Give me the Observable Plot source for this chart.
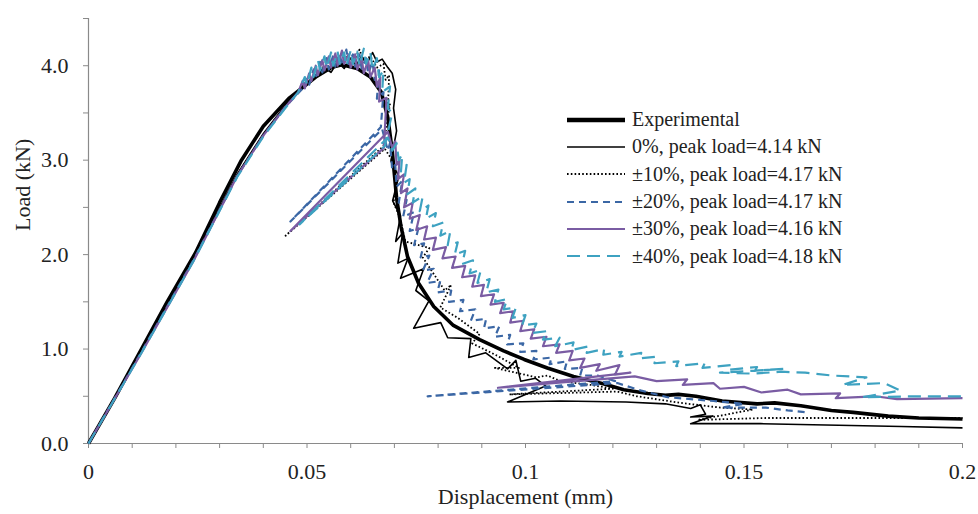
<!DOCTYPE html>
<html>
<head>
<meta charset="utf-8">
<script src="https://cdn.jsdelivr.net/npm/d3@7"></script>
<script src="https://cdn.jsdelivr.net/npm/@observablehq/plot@0.6"></script>
<style>
  body { margin: 0; background: #fff; }
  #wrap { position: relative; width: 978px; height: 514px; }
  #legend { position: absolute; left: 567px; top: 106px; font-family: "Liberation Serif", "Times New Roman", serif; font-size: 20px; color: #222; }
  .row { display: flex; align-items: center; height: 27.3px; white-space: nowrap; }
  .row svg { width: 58px; height: 10px; margin-right: 7px; flex: none; }
</style>
</head>
<body>
<div id="wrap"><div id="legend"></div></div>
<script>
// ---------------- data (displacement mm, load kN) ----------------
const experimental = [[0,0],[0.006,0.48],[0.012,0.99],[0.018,1.5],[0.0245,2.02],[0.030,2.55],[0.035,3.0],[0.040,3.36],[0.046,3.66],[0.052,3.88],[0.0555,3.98],[0.058,4.01],[0.0615,3.97],[0.0645,3.88],[0.067,3.72],[0.0685,3.45],[0.0695,3.1],[0.0705,2.6],[0.0715,2.3],[0.073,1.98],[0.0755,1.7],[0.079,1.45],[0.0835,1.25],[0.0895,1.1],[0.095,0.98],[0.0997,0.89],[0.105,0.8],[0.111,0.71],[0.118,0.63],[0.1225,0.57],[0.128,0.53],[0.132,0.51],[0.135,0.52],[0.139,0.5],[0.145,0.45],[0.153,0.42],[0.157,0.43],[0.163,0.4],[0.17,0.35],[0.175,0.33],[0.183,0.29],[0.19,0.27],[0.2,0.26]];

const pct0 = [[0,0],[0.012,0.97],[0.024,1.95],[0.034,2.85],[0.040,3.28],[0.045,3.58],[0.049,3.78],[0.052,3.9],[0.054,3.98],[0.0555,3.93],[0.057,4.04],[0.0585,3.97],[0.060,4.08],[0.0612,4.0],[0.0625,4.1],[0.0638,4.03],[0.065,4.14],[0.066,4.04],[0.0672,4.07],[0.0685,3.98],[0.0695,3.92],[0.0703,3.75],[0.0698,3.55],[0.0705,3.31],[0.0692,2.99],[0.0710,2.83],[0.0696,2.57],[0.0714,2.41],[0.0703,2.14],[0.0719,2.23],[0.0708,1.91],[0.0731,1.96],[0.0714,1.75],[0.0767,1.85],[0.0749,1.62],[0.0779,1.51],[0.0744,1.22],[0.0806,1.28],[0.0822,1.12],[0.0875,1.11],[0.087,0.91],[0.0909,0.96],[0.0959,0.79],[0.0978,0.88],[0.0989,0.66],[0.1023,0.69],[0.1046,0.61],[0.0959,0.44],[0.108,0.45],[0.123,0.44],[0.132,0.42],[0.1378,0.37],[0.14,0.41],[0.1412,0.31],[0.1378,0.28],[0.1429,0.29],[0.1378,0.21],[0.1538,0.21],[0.1745,0.19],[0.186,0.18],[0.2,0.165]];

const pct10 = [[0,0],[0.012,0.96],[0.024,1.94],[0.034,2.84],[0.040,3.27],[0.045,3.57],[0.049,3.77],[0.052,3.9],[0.054,4.0],[0.055,3.93],[0.057,4.08],[0.058,4.0],[0.0595,4.12],[0.0605,4.03],[0.062,4.17],[0.063,4.05],[0.0645,4.1],[0.066,3.98],[0.0675,4.02],[0.068,3.85],[0.0688,3.9],[0.0685,3.55],[0.069,3.6],[0.0675,3.15],[0.0451,2.2],[0.0678,3.12],[0.0695,3.0],[0.0705,2.75],[0.0698,2.55],[0.0712,2.4],[0.0725,2.14],[0.078,2.07],[0.0765,1.97],[0.0815,1.62],[0.083,1.68],[0.0805,1.44],[0.0845,1.33],[0.0895,1.16],[0.0878,1.06],[0.0935,0.93],[0.0985,0.8],[0.093,0.8],[0.1025,0.7],[0.105,0.72],[0.108,0.66],[0.115,0.62],[0.12,0.58],[0.0963,0.52],[0.121,0.55],[0.1255,0.5],[0.1355,0.43],[0.1446,0.38],[0.152,0.36],[0.1395,0.25],[0.155,0.27],[0.17,0.27],[0.2,0.27]];

const pct20 = [[0,0],[0.012,0.96],[0.024,1.94],[0.034,2.83],[0.040,3.26],[0.045,3.56],[0.049,3.76],[0.050,3.86],[0.0505,3.8],[0.0515,3.96],[0.052,3.88],[0.053,4.04],[0.0535,3.93],[0.0545,4.08],[0.055,3.96],[0.056,4.11],[0.0565,3.99],[0.0575,4.13],[0.058,4.0],[0.059,4.17],[0.0595,4.02],[0.0605,4.12],[0.061,3.99],[0.062,4.12],[0.0625,3.97],[0.0635,4.08],[0.064,3.92],[0.065,4.04],[0.0655,3.85],[0.0665,3.95],[0.066,3.65],[0.0675,3.72],[0.0669,3.35],[0.0462,2.35],[0.0672,3.33],[0.0685,3.1],[0.069,3.18],[0.0695,2.9],[0.0702,2.95],[0.0705,2.72],[0.0718,2.78],[0.071,2.55],[0.0728,2.58],[0.072,2.4],[0.0745,2.45],[0.0735,2.25],[0.0755,2.28],[0.0745,2.1],[0.0768,2.12],[0.076,1.97],[0.078,1.99],[0.0765,1.83],[0.079,1.85],[0.0775,1.7],[0.0805,1.72],[0.0798,1.6],[0.083,1.62],[0.0825,1.5],[0.0858,1.52],[0.085,1.4],[0.0885,1.42],[0.0875,1.3],[0.091,1.32],[0.0905,1.22],[0.094,1.24],[0.093,1.13],[0.0965,1.15],[0.0958,1.05],[0.0995,1.06],[0.0988,0.97],[0.1025,0.98],[0.1018,0.89],[0.106,0.91],[0.1055,0.84],[0.1095,0.87],[0.109,0.79],[0.113,0.8],[0.1125,0.72],[0.1165,0.72],[0.1205,0.66],[0.0776,0.5],[0.121,0.64],[0.1265,0.56],[0.1325,0.49],[0.143,0.45],[0.15,0.42],[0.145,0.38],[0.155,0.38],[0.16,0.35],[0.1645,0.33]];

const pct30 = [[0,0],[0.012,0.95],[0.024,1.93],[0.034,2.83],[0.040,3.26],[0.045,3.56],[0.048,3.72],[0.049,3.84],[0.0495,3.76],[0.0505,3.92],[0.051,3.84],[0.052,4.0],[0.0525,3.9],[0.0535,4.06],[0.054,3.95],[0.055,4.1],[0.0555,3.98],[0.0565,4.13],[0.057,4.0],[0.058,4.16],[0.0585,4.02],[0.0595,4.12],[0.06,3.98],[0.061,4.12],[0.0615,3.96],[0.0625,4.08],[0.063,3.92],[0.064,4.06],[0.0645,3.88],[0.0655,3.98],[0.066,3.78],[0.0668,3.88],[0.0665,3.62],[0.0682,3.66],[0.0676,3.13],[0.0462,2.25],[0.0685,3.3],[0.0695,3.13],[0.0702,3.2],[0.0705,2.95],[0.0712,3.0],[0.0708,2.8],[0.0722,2.85],[0.0715,2.65],[0.073,2.7],[0.0722,2.5],[0.0742,2.55],[0.0735,2.38],[0.0758,2.42],[0.075,2.26],[0.0775,2.3],[0.0768,2.16],[0.0795,2.18],[0.0788,2.05],[0.0818,2.08],[0.081,1.96],[0.084,1.98],[0.0832,1.86],[0.0862,1.88],[0.0855,1.76],[0.0885,1.78],[0.0878,1.66],[0.0905,1.68],[0.0898,1.56],[0.0928,1.58],[0.092,1.47],[0.095,1.49],[0.0942,1.38],[0.0972,1.4],[0.0965,1.28],[0.0995,1.3],[0.0988,1.19],[0.102,1.21],[0.1012,1.11],[0.1048,1.13],[0.104,1.03],[0.1078,1.05],[0.107,0.96],[0.1108,0.98],[0.11,0.88],[0.1135,0.9],[0.1125,0.8],[0.117,0.84],[0.1162,0.77],[0.1215,0.83],[0.1205,0.73],[0.124,0.75],[0.0937,0.59],[0.125,0.71],[0.13,0.66],[0.137,0.68],[0.136,0.62],[0.143,0.64],[0.1445,0.58],[0.15,0.6],[0.154,0.54],[0.16,0.57],[0.163,0.52],[0.172,0.53],[0.171,0.48],[0.18,0.5],[0.185,0.47],[0.2,0.48]];

const pct40 = [[0,0],[0.012,0.95],[0.024,1.93],[0.034,2.82],[0.040,3.25],[0.045,3.55],[0.048,3.72],[0.0495,3.88],[0.05,3.8],[0.051,3.98],[0.0515,3.88],[0.0525,4.06],[0.053,3.95],[0.054,4.1],[0.0545,3.98],[0.0555,4.14],[0.056,4.0],[0.057,4.15],[0.0575,4.02],[0.0585,4.14],[0.059,4.0],[0.06,4.16],[0.0605,4.02],[0.0615,4.15],[0.062,4.0],[0.063,4.18],[0.0635,4.02],[0.0645,4.14],[0.065,3.96],[0.066,4.08],[0.0665,3.88],[0.0675,3.95],[0.0672,3.72],[0.069,3.78],[0.0685,3.55],[0.0695,3.5],[0.0678,3.15],[0.0483,2.32],[0.0685,3.24],[0.0695,3.1],[0.0705,3.18],[0.071,3.0],[0.0718,3.06],[0.0715,2.88],[0.0728,2.95],[0.0722,2.76],[0.0735,2.8],[0.073,2.64],[0.0748,2.7],[0.0742,2.55],[0.0765,2.62],[0.0758,2.46],[0.0778,2.52],[0.0772,2.38],[0.0795,2.44],[0.0788,2.3],[0.0812,2.34],[0.0805,2.2],[0.0828,2.25],[0.0822,2.1],[0.0845,2.13],[0.0838,2.0],[0.0862,2.04],[0.0855,1.9],[0.088,1.94],[0.0872,1.8],[0.0898,1.84],[0.089,1.7],[0.0918,1.74],[0.091,1.6],[0.0938,1.63],[0.093,1.5],[0.0958,1.53],[0.095,1.42],[0.0978,1.44],[0.097,1.33],[0.1,1.36],[0.0992,1.25],[0.1025,1.27],[0.1015,1.17],[0.105,1.19],[0.104,1.1],[0.1078,1.12],[0.1068,1.03],[0.111,1.07],[0.1105,0.99],[0.1145,1.03],[0.114,0.96],[0.118,1.0],[0.1178,0.94],[0.122,0.97],[0.1215,0.92],[0.1265,0.96],[0.126,0.9],[0.13,0.92],[0.1295,0.85],[0.135,0.87],[0.1345,0.82],[0.141,0.85],[0.1405,0.8],[0.147,0.83],[0.1465,0.78],[0.153,0.81],[0.1525,0.77],[0.159,0.79],[0.1445,0.75],[0.152,0.74],[0.1585,0.76],[0.164,0.75],[0.17,0.72],[0.178,0.7],[0.1725,0.62],[0.182,0.64],[0.1858,0.56],[0.177,0.49],[0.19,0.5],[0.2,0.5]];

const seriesNames = ["Experimental", "0%, peak load=4.14 kN", "±10%, peak load=4.17 kN", "±20%, peak load=4.17 kN", "±30%, peak load=4.16 kN", "±40%, peak load=4.18 kN"];
const seriesData = [experimental, pct0, pct10, pct20, pct30, pct40];

const xMajor = [0, 0.05, 0.1, 0.15, 0.2];
const xLabels = ["0", "0.05", "0.1", "0.15", "0.2"];
const xMinor = [0.01, 0.02, 0.03, 0.04, 0.06, 0.07, 0.08, 0.09, 0.11, 0.12, 0.13, 0.14, 0.16, 0.17, 0.18, 0.19];
const yMajor = [0, 1, 2, 3, 4];
const yLabels = ["0.0", "1.0", "2.0", "3.0", "4.0"];
const yMinor = [0.5, 1.5, 2.5, 3.5, 4.5];

// ---------------- styles ----------------
const seriesColors = ["#000000", "#000000", "#000000", "#3b67a5", "#7a5ca3", "#3ea2c1"];
const seriesWidths = [3.6, 1.6, 1.8, 2.2, 2.2, 2.2];
const seriesDashes = [null, null, "1.6,2.2", "7,5", null, "13,7"];
const axisColor = "#8a8a8a";
const textColor = "#222";
const font = "'Liberation Serif', 'Times New Roman', serif";

const lineMarks = seriesData.map((d, i) => Plot.line(d, {
  x: p => p[0], y: p => p[1],
  stroke: seriesColors[i], strokeWidth: seriesWidths[i],
  strokeDasharray: seriesDashes[i] ?? undefined,
  strokeLinejoin: "round", strokeLinecap: "butt"
}));

const chart = Plot.plot({
  width: 978, height: 514,
  marginLeft: 88, marginRight: 16, marginTop: 18, marginBottom: 71,
  style: { fontFamily: font, fontSize: "22px", color: textColor, background: "#fff" },
  x: { domain: [0, 0.2] },
  y: { domain: [0, 4.5] },
  marks: [
    Plot.axisX({ ticks: xMinor, tickSize: 5, stroke: axisColor, tickFormat: () => "", label: null }),
    Plot.axisX({ ticks: xMajor, tickSize: 5, tickPadding: 15, stroke: axisColor, fill: textColor, fontSize: 22,
      tickFormat: d => xLabels[xMajor.indexOf(d)], label: null }),
    Plot.axisY({ ticks: yMinor, tickSize: 5, stroke: axisColor, tickFormat: () => "", label: null }),
    Plot.axisY({ ticks: yMajor, tickSize: 5, tickPadding: 15, stroke: axisColor, fill: textColor, fontSize: 22,
      tickFormat: d => yLabels[yMajor.indexOf(d)], label: null }),
    Plot.ruleY([0], { stroke: axisColor, strokeWidth: 1.2 }),
    Plot.ruleX([0], { stroke: axisColor, strokeWidth: 1.2 }),
    ...lineMarks,
    Plot.text(["Displacement (mm)"], { frameAnchor: "bottom", dy: 60, fontSize: 22, fill: textColor }),
    Plot.text(["Load (kN)"], { frameAnchor: "left", dx: -66, rotate: -90, fontSize: 22, fill: textColor })
  ]
});
document.getElementById("wrap").prepend(chart);

// ---------------- legend ----------------
const legend = document.getElementById("legend");
seriesNames.forEach((name, i) => {
  const row = document.createElement("div");
  row.className = "row";
  const dash = seriesDashes[i] ? `stroke-dasharray="${seriesDashes[i]}"` : "";
  row.innerHTML = `<svg viewBox="0 0 58 10"><line x1="0" y1="5" x2="58" y2="5" stroke="${seriesColors[i]}" stroke-width="${i === 0 ? 4.5 : seriesWidths[i]}" ${dash}/></svg><span>${name}</span>`;
  legend.appendChild(row);
});
</script>
</body>
</html>
